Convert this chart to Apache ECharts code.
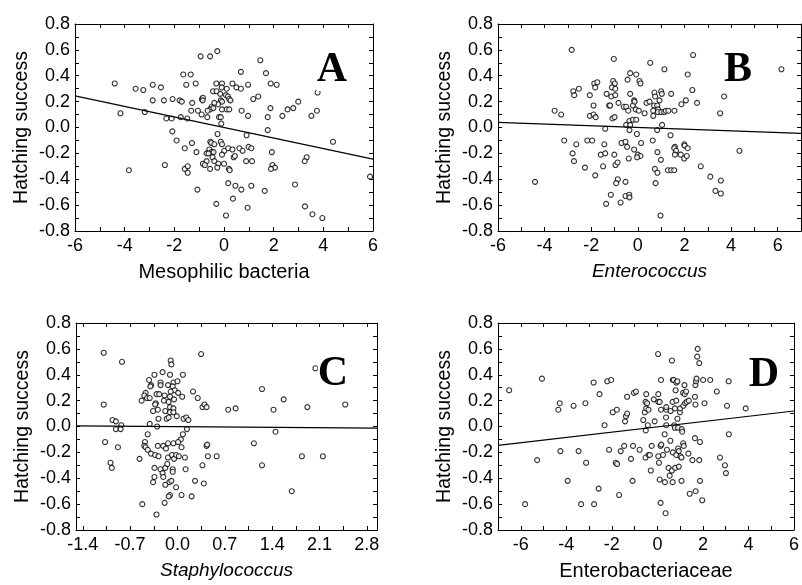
<!DOCTYPE html>
<html>
<head>
<meta charset="utf-8">
<script src="https://cdn.jsdelivr.net/npm/echarts@6/dist/echarts.min.js"></script>
<style>
  html, body { margin: 0; background: #fff; }
  #chart { width: 802px; height: 585px; }
</style>
</head>
<body>
<div id="chart"></div>
<script>
// scatter points [x, y]
const ptsA = [
  [-0.27,0.59],[-0.94,0.55],[-0.56,0.55],[1.46,0.52],[0.68,0.43],[1.69,0.42],[-1.64,0.41],[-1.34,0.41],
  [-4.40,0.34],[-2.87,0.33],[-1.52,0.33],[-1.14,0.34],[-0.31,0.34],[-0.08,0.34],[0.34,0.34],
  [-3.56,0.30],[-3.25,0.29],[-2.54,0.31],[-0.09,0.31],[0.11,0.30],[0.50,0.31],[0.68,0.30],[0.97,0.33],[1.88,0.34],[2.12,0.33],
  [-0.44,0.28],[-0.30,0.28],[-0.15,0.26],[0.08,0.25],[0.16,0.24],[-0.89,0.22],[-0.85,0.23],[-0.86,0.21],
  [-2.07,0.22],[-1.79,0.21],[-1.70,0.20],[-2.87,0.21],[-2.42,0.21],[-1.28,0.19],[-0.13,0.21],[-0.08,0.20],[0.21,0.22],[0.26,0.21],[1.18,0.22],[1.38,0.24],
  [-0.24,0.18],[-0.39,0.19],[-0.50,0.16],[-0.56,0.14],[-0.66,0.13],[-0.43,0.15],[-0.08,0.14],[0.11,0.14],[0.21,0.14],[0.71,0.13],[-1.32,0.13],[-1.05,0.13],[-0.90,0.10],
  [1.87,0.15],[2.56,0.14],[2.79,0.15],[2.99,0.20],[3.74,0.13],[-4.17,0.11],[-3.19,0.12],
  [-2.32,0.07],[-2.11,0.07],[-1.74,0.08],[-1.48,0.07],[-0.67,0.08],[-0.20,0.08],[-0.13,0.08],[0.97,0.09],[1.76,0.08],[2.35,0.09],[3.52,0.09],
  [-0.11,0.03],[-2.08,-0.03],[-0.26,-0.05],[1.76,-0.02],[0.91,-0.06],
  [-1.91,-0.10],[-1.29,-0.12],[-0.55,-0.11],[-0.51,-0.12],[-0.39,-0.13],[-0.13,-0.11],[-0.08,-0.13],[4.39,-0.11],
  [-1.58,-0.16],[-1.11,-0.19],[-0.59,-0.17],[-0.50,-0.19],[-0.70,-0.20],[-0.62,-0.20],[-0.42,-0.19],[0.01,-0.18],[0.17,-0.16],[0.34,-0.17],[0.62,-0.16],[0.75,-0.18],[0.99,-0.15],[1.10,-0.16],[1.93,-0.19],
  [-0.08,-0.21],[-0.46,-0.23],[0.39,-0.23],[0.44,-0.22],[-0.70,-0.26],[-0.39,-0.26],[-0.85,-0.28],[-0.77,-0.29],[-0.23,-0.28],[0.00,-0.28],[0.89,-0.26],[1.13,-0.26],[1.95,-0.29],[2.05,-0.31],[1.89,-0.32],[3.33,-0.23],[3.25,-0.26],
  [-3.83,-0.33],[-2.38,-0.29],[-1.58,-0.32],[-1.46,-0.30],[-1.46,-0.35],[-0.56,-0.32],[-0.27,-0.31],[0.20,-0.32],[0.23,-0.33],[5.88,-0.38],
  [0.17,-0.43],[0.46,-0.45],[0.70,-0.48],[1.10,-0.45],[1.64,-0.49],[2.86,-0.44],[-1.07,-0.48],[0.36,-0.55],[-0.31,-0.59],[0.95,-0.62],[3.26,-0.61],[0.08,-0.68],[3.56,-0.67],[3.96,-0.70],[3.77,0.27]
];
const ptsB = [
  [-2.84,0.60],[-1.03,0.53],[2.37,0.56],[0.53,0.50],[1.14,0.45],[6.16,0.45],[2.14,0.41],[-0.33,0.42],[-0.07,0.41],[0.07,0.36],[0.11,0.34],[-0.44,0.37],
  [-1.06,0.36],[-0.99,0.34],[-1.87,0.34],[-1.74,0.35],[-1.83,0.31],[-1.11,0.31],[-0.97,0.30],[-2.53,0.30],[-2.77,0.28],[-2.73,0.25],[-2.06,0.25],
  [-1.34,0.26],[-1.14,0.24],[-0.97,0.25],[-0.33,0.26],[0.71,0.27],[0.74,0.24],[1.00,0.28],[1.03,0.26],[1.43,0.26],[2.34,0.29],[3.70,0.24],
  [-1.90,0.17],[-1.23,0.17],[-1.19,0.17],[-0.83,0.19],[-0.60,0.16],[-0.50,0.16],[-0.21,0.17],[-0.16,0.21],[-0.14,0.20],[-0.09,0.14],[0.04,0.13],
  [-0.41,0.13],[0.29,0.11],[0.37,0.19],[0.50,0.20],[0.70,0.17],[0.66,0.13],[0.83,0.17],[0.87,0.14],[0.93,0.21],[0.86,0.12],[1.01,0.12],[1.13,0.12],
  [1.20,0.13],[1.31,0.13],[1.57,0.13],[1.87,0.18],[2.06,0.21],[2.54,0.19],[3.53,0.11],
  [-3.57,0.13],[-3.29,0.10],[-2.06,0.09],[-1.90,0.10],[-1.81,0.08],[-1.09,0.07],[-1.00,0.08],[0.66,0.09],[-0.50,0.02],[-0.36,0.05],[-0.21,0.06],
  [-0.07,0.06],[-0.33,0.02],[-0.36,-0.02],[-1.40,-0.01],[1.04,0.02],[0.83,-0.02],[-0.04,-0.05],[1.40,-0.06],
  [-3.16,-0.10],[-2.17,-0.10],[-1.96,-0.10],[-2.64,-0.13],[-1.44,-0.13],[-0.70,-0.12],[-0.53,-0.11],[-0.46,-0.15],[0.14,-0.12],[0.64,-0.10],
  [-2.80,-0.20],[-2.74,-0.26],[-2.27,-0.31],[-1.59,-0.21],[-1.49,-0.30],[-1.40,-0.20],[-1.01,-0.21],[-0.96,-0.29],[-0.87,-0.27],[-0.39,-0.24],
  [-0.16,-0.17],[0.00,-0.21],[0.11,-0.22],[-0.03,-0.23],[0.84,-0.19],[0.99,-0.25],[1.59,-0.15],[1.56,-0.16],[1.64,-0.18],[1.59,-0.21],[1.99,-0.13],
  [2.01,-0.14],[2.14,-0.16],[1.84,-0.21],[1.99,-0.24],[2.10,-0.22],[4.36,-0.18],
  [-1.83,-0.37],[0.73,-0.32],[0.84,-0.35],[1.29,-0.33],[1.43,-0.33],[1.56,-0.33],[2.70,-0.30],[-4.41,-0.42],[-0.86,-0.40],[-0.93,-0.43],[-0.53,-0.42],
  [0.76,-0.43],[3.11,-0.38],[3.56,-0.41],[3.33,-0.49],[3.56,-0.51],[-1.16,-0.52],[-0.53,-0.53],[-0.37,-0.52],[-0.36,-0.54],[-1.36,-0.59],[-0.74,-0.58],[0.97,-0.68]
];
const ptsC = [
  [-1.09,0.57],[-0.82,0.50],[0.35,0.56],[-0.10,0.51],[-0.09,0.48],[-0.22,0.42],[-0.34,0.40],[-0.11,0.40],[0.08,0.40],[-0.42,0.36],[-0.39,0.32],
  [-0.40,0.31],[-0.25,0.34],[-0.25,0.32],[-0.14,0.32],[-0.06,0.34],[0.00,0.35],[-0.07,0.31],[-0.04,0.28],[-0.10,0.27],[0.01,0.26],[0.07,0.23],
  [-0.47,0.26],[-0.49,0.24],[-0.45,0.22],[-0.41,0.22],[-0.31,0.25],[-0.27,0.25],[-0.19,0.24],[-0.11,0.23],[-0.20,0.20],[-0.13,0.19],[-0.05,0.21],
  [-0.53,0.20],[-0.32,0.18],[-0.33,0.17],[-0.29,0.13],[-0.36,0.12],[-0.18,0.12],[-0.11,0.15],[-0.06,0.14],[-0.11,0.11],[-0.06,0.11],[-0.01,0.08],
  [-0.16,0.06],[-0.13,0.07],[-0.28,0.06],[0.09,0.06],[0.13,0.07],[0.16,0.05],[0.23,0.27],[0.30,0.22],[0.37,0.15],[0.40,0.17],[0.43,0.15],
  [-1.09,0.17],[-0.96,0.05],[-0.91,0.04],[-0.83,0.01],[-0.91,-0.02],[-0.84,-0.02],[-0.41,0.02],[-0.30,0.00],[0.14,-0.02],
  [-1.07,-0.12],[-0.88,-0.16],[-0.44,-0.06],[0.08,-0.06],[0.05,-0.10],[-0.48,-0.12],[-0.49,-0.15],[-0.47,-0.16],[-0.44,-0.18],[-0.39,-0.21],
  [-0.29,-0.15],[-0.21,-0.15],[-0.17,-0.17],[-0.14,-0.13],[-0.06,-0.13],[0.01,-0.12],[0.06,-0.16],[-0.33,-0.22],[-0.28,-0.23],[-0.14,-0.24],
  [-0.08,-0.22],[-0.05,-0.25],[-0.02,-0.22],[0.02,-0.23],[0.11,-0.24],[-0.56,-0.25],[0.43,-0.15],[0.44,-0.14],[0.45,-0.23],[0.58,-0.23],
  [-0.99,-0.28],[-0.97,-0.32],[-0.34,-0.32],[-0.25,-0.33],[-0.18,-0.32],[-0.15,-0.29],[-0.22,-0.36],[-0.21,-0.39],[-0.07,-0.33],[-0.07,-0.35],
  [0.12,-0.33],[0.37,-0.30],[-0.34,-0.39],[-0.36,-0.43],[-0.12,-0.43],[-0.09,-0.42],[-0.18,-0.45],[-0.02,-0.47],[0.39,-0.44],[0.26,-0.42],
  [-0.11,-0.53],[-0.13,-0.54],[0.06,-0.53],[0.21,-0.54],[-0.19,-0.59],[-0.52,-0.60],[-0.31,-0.68],
  [0.75,0.13],[0.86,0.14],[1.25,0.29],[1.42,0.13],[1.57,0.21],[1.92,0.15],[2.04,0.45],[2.48,0.17],[1.45,-0.04],[1.13,-0.13],[1.25,-0.30],
  [1.69,-0.50],[1.84,-0.23],[2.15,-0.23]
];
const ptsD = [
  [-6.51,0.28],[-5.07,0.37],[-5.81,-0.60],[-5.28,-0.26],[-4.35,0.13],[-4.29,0.18],[-4.26,-0.19],[-3.94,-0.42],[-3.68,0.16],[-3.46,-0.19],
  [-3.35,-0.60],[-3.16,0.18],[-3.13,-0.28],[-2.80,0.34],[-2.78,-0.60],[-2.58,-0.48],[-2.54,0.25],[-2.32,0.01],[-2.20,0.35],[-2.03,0.36],
  [-2.12,-0.18],[-1.96,0.11],[-1.78,0.13],[-1.83,-0.28],[-1.77,-0.29],[-1.68,-0.53],[-1.61,-0.19],[-1.46,-0.15],[-1.42,0.04],[-1.38,0.08],
  [-1.33,0.10],[-1.33,0.23],[-1.16,-0.25],[-1.07,-0.15],[-1.09,-0.42],[-1.03,0.26],[-0.94,0.27],[-0.78,-0.18],[-0.62,0.05],[-0.55,0.11],
  [-0.51,-0.03],[-0.52,-0.24],[-0.49,0.25],[-0.52,0.19],[-0.45,0.18],[-0.49,0.14],[-0.39,0.13],[-0.42,0.01],[-0.39,-0.22],[-0.33,-0.22],
  [-0.29,-0.34],[-0.25,-0.15],[-0.16,0.21],[-0.12,0.04],[0.03,0.56],[0.04,0.25],[0.04,0.19],[0.10,0.19],[0.16,0.36],[0.16,0.13],
  [0.04,-0.23],[0.07,-0.28],[0.10,-0.41],[0.14,-0.59],[0.14,-0.15],[0.17,-0.14],[0.25,-0.22],[0.32,-0.06],[0.33,-0.43],[0.36,-0.67],
  [0.38,0.07],[0.39,0.13],[0.39,0.15],[0.39,0.01],[0.42,-0.18],[0.49,-0.32],[0.57,-0.11],[0.54,-0.38],[0.58,0.12],[0.64,0.51],
  [0.68,0.36],[0.67,0.19],[0.68,-0.20],[0.64,-0.34],[0.67,-0.43],[0.72,0.36],[0.77,0.14],[0.78,-0.32],[0.83,0.34],[0.80,0.28],
  [0.83,0.20],[0.83,-0.22],[0.74,0.01],[0.77,-0.01],[0.88,0.35],[0.88,0.06],[0.91,-0.01],[0.91,-0.17],[0.94,-0.19],[0.94,-0.31],
  [0.99,0.11],[1.00,0.14],[1.01,-0.23],[1.06,-0.24],[1.07,-0.02],[1.09,-0.04],[1.13,-0.13],[1.13,0.26],[1.14,0.16],[1.16,-0.15],
  [1.06,-0.42],[1.19,0.32],[1.20,0.25],[1.22,0.18],[1.26,0.27],[1.29,0.19],[1.38,0.20],[1.36,-0.21],[1.42,-0.52],[1.54,-0.26],
  [1.65,-0.09],[1.65,0.23],[1.67,0.17],[1.67,0.32],[1.70,0.35],[1.72,0.37],[1.68,-0.50],[1.75,0.54],[1.77,0.60],[1.84,0.49],
  [1.87,-0.12],[1.84,-0.26],[1.87,-0.42],[1.97,-0.57],[2.01,0.36],[2.07,0.18],[2.32,0.36],[2.61,0.27],[2.75,-0.24],[2.97,-0.30],
  [3.01,-0.36],[3.06,0.16],[3.13,0.35],[3.14,-0.06],[3.88,0.14]
];

// fitted regression lines, end points
const fitA = [[-6, 0.245], [6, -0.245]];
const fitB = [[-6, 0.04], [7, -0.045]];
const fitC = [[-1.5, 0.005], [2.95, -0.012]];
const fitD = [[-7, -0.146], [6, 0.12]];

// axis labels and ticks
const yLabels = [-0.8, -0.6, -0.4, -0.2, 0, 0.2, 0.4, 0.6, 0.8];
const yTicks = [-0.8, -0.7, -0.6, -0.5, -0.4, -0.3, -0.2, -0.1, 0, 0.1, 0.2, 0.3, 0.4, 0.5, 0.6, 0.7, 0.8];
const xLabelsA = [-6, -4, -2, 0, 2, 4, 6];
const xTicksA = [-6, -5, -4, -3, -2, -1, 0, 1, 2, 3, 4, 5, 6];
const xLabelsB = [-6, -4, -2, 0, 2, 4, 6];
const xTicksB = [-6, -5, -4, -3, -2, -1, 0, 1, 2, 3, 4, 5, 6, 7];
const xLabelsC = [-1.4, -0.7, 0, 0.7, 1.4, 2.1, 2.8];
const xTicksC = [-1.4, -1.05, -0.7, -0.35, 0, 0.35, 0.7, 1.05, 1.4, 1.75, 2.1, 2.45, 2.8];
const xLabelsD = [-6, -4, -2, 0, 2, 4, 6];
const xTicksD = [-7, -6, -5, -4, -3, -2, -1, 0, 1, 2, 3, 4, 5, 6];

const FONT = '"Liberation Sans", Arial, sans-serif';

const panels = [
  {grid: {left: 75, top: 24, width: 298, height: 207}, min: -6, max: 6, labels: xLabelsA, ticks: xTicksA,
   fmt: v => String(v), name: 'Mesophilic bacteria', italic: false, pts: ptsA, fit: fitA, letter: 'A', lx: 332, ly: 70},
  {grid: {left: 498, top: 24, width: 303, height: 207}, min: -6, max: 7, labels: xLabelsB, ticks: xTicksB,
   fmt: v => String(v), name: 'Enterococcus', italic: true, pts: ptsB, fit: fitB, letter: 'B', lx: 738, ly: 70},
  {grid: {left: 76, top: 323, width: 301, height: 207}, min: -1.5, max: 2.95, labels: xLabelsC, ticks: xTicksC,
   fmt: v => v.toFixed(1), name: 'Staphylococcus', italic: true, pts: ptsC, fit: fitC, letter: 'C', lx: 333, ly: 374},
  {grid: {left: 498, top: 323, width: 299, height: 207}, min: -7, max: 6, labels: xLabelsD, ticks: xTicksD,
   fmt: v => String(v), name: 'Enterobacteriaceae', italic: false, pts: ptsD, fit: fitD, letter: 'D', lx: 764, ly: 375}
];

const lineStyle = {color: '#000', width: 1};
const tick = (vals) => ({inside: true, length: 4, customValues: vals, lineStyle: lineStyle});

let grids = [], xAxes = [], yAxes = [], series = [], graphics = [];
panels.forEach((p, i) => {
  grids.push(p.grid);
  xAxes.push({
    gridIndex: i, type: 'value', position: 'bottom', min: p.min, max: p.max,
    axisLine: {onZero: false, lineStyle: lineStyle},
    axisTick: tick(p.ticks),
    axisLabel: {customValues: p.labels, formatter: p.fmt, color: '#000', fontSize: 18, fontFamily: FONT, margin: 6},
    splitLine: {show: false},
    name: p.name, nameLocation: 'middle', nameGap: 31,
    nameTextStyle: {color: '#000', fontSize: p.italic ? 19 : 20, fontFamily: FONT, fontStyle: p.italic ? 'italic' : 'normal'}
  });
  xAxes.push({
    gridIndex: i, type: 'value', position: 'top', min: p.min, max: p.max,
    axisLine: {onZero: false, lineStyle: lineStyle},
    axisTick: tick(p.ticks), axisLabel: {show: false}, splitLine: {show: false}
  });
  yAxes.push({
    gridIndex: i, type: 'value', position: 'left', min: -0.8, max: 0.8,
    axisLine: {onZero: false, lineStyle: lineStyle},
    axisTick: tick(yTicks),
    axisLabel: {customValues: yLabels, formatter: v => v.toFixed(1), color: '#000', fontSize: 18, fontFamily: FONT, margin: 5},
    splitLine: {show: false},
    name: 'Hatching success', nameLocation: 'middle', nameGap: 43,
    nameTextStyle: {color: '#000', fontSize: 19.5, fontFamily: FONT}
  });
  yAxes.push({
    gridIndex: i, type: 'value', position: 'right', min: -0.8, max: 0.8,
    axisLine: {onZero: false, lineStyle: lineStyle},
    axisTick: tick(yTicks), axisLabel: {show: false}, splitLine: {show: false}
  });
  series.push({
    type: 'scatter', xAxisIndex: 2 * i, yAxisIndex: 2 * i, data: p.pts,
    symbol: 'circle', symbolSize: 5, silent: true,
    itemStyle: {color: '#fff', borderColor: '#000', borderWidth: 1.1}
  });
  series.push({
    type: 'line', xAxisIndex: 2 * i, yAxisIndex: 2 * i, data: p.fit,
    symbol: 'none', silent: true, lineStyle: {color: '#000', width: 1.2}
  });
  graphics.push({
    type: 'text', x: p.lx, y: p.ly, z: 100,
    style: {text: p.letter, fill: '#000', font: 'bold 42px "Liberation Serif", "Times New Roman", serif',
      align: 'center', verticalAlign: 'middle', backgroundColor: '#fff'}
  });
});

const chart = echarts.init(document.getElementById('chart'));
chart.setOption({
  animation: false,
  backgroundColor: '#fff',
  grid: grids,
  xAxis: xAxes,
  yAxis: yAxes,
  series: series,
  graphic: graphics
});
</script>
</body>
</html>
